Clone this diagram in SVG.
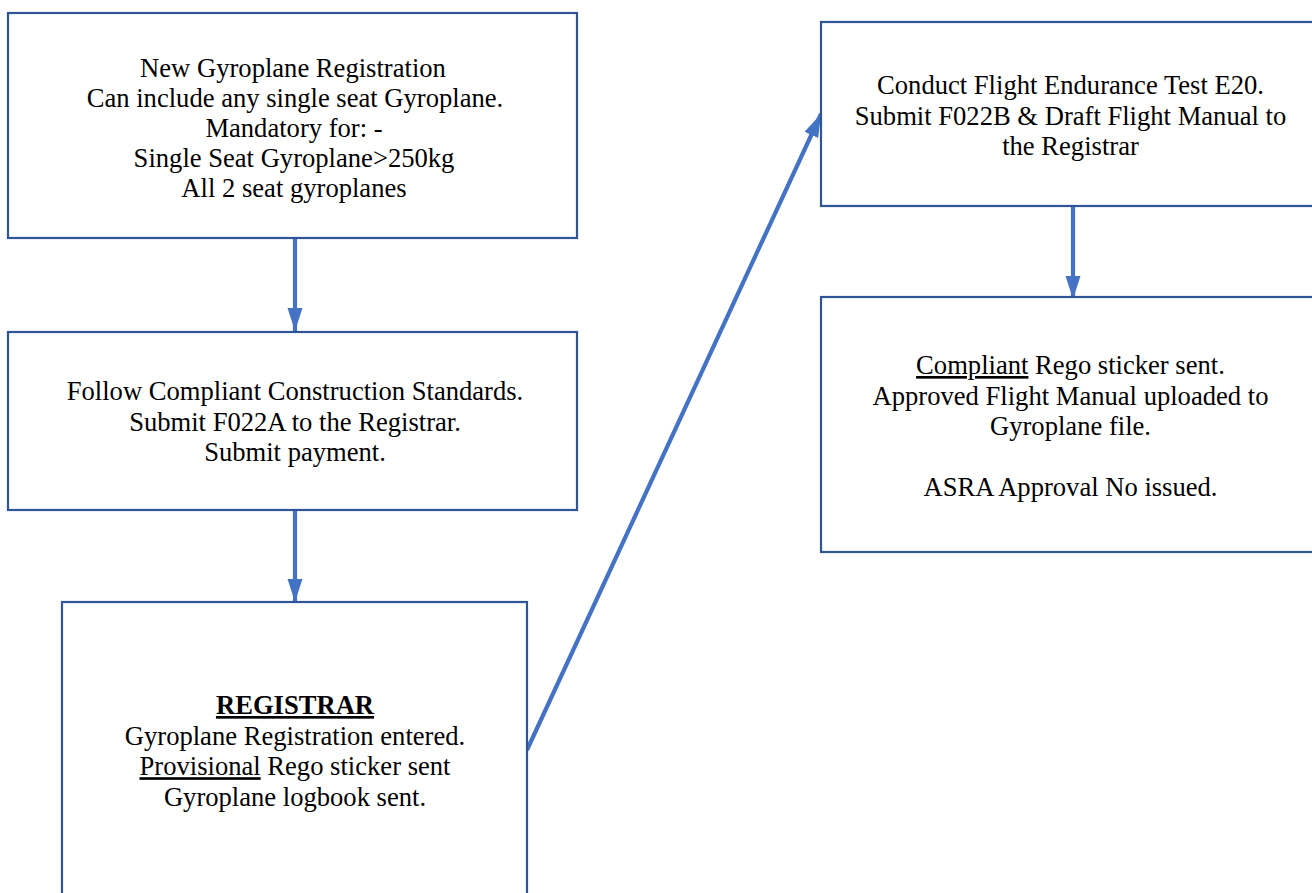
<svg xmlns="http://www.w3.org/2000/svg" width="1312" height="893" viewBox="0 0 1312 893">
<style>
.box{fill:#ffffff;stroke:#2F5597;stroke-width:2.2}
.t{font-family:"Liberation Serif","Times New Roman",serif;font-size:26.6px;fill:#000000;text-anchor:middle}
.u{text-decoration:underline}
.b{font-weight:bold}
.c{stroke:#4472C4;stroke-width:4.2;fill:none}
</style>
<defs>
<marker id="ah" markerUnits="userSpaceOnUse" markerWidth="24" markerHeight="16" refX="23" refY="7.5" orient="auto">
<path d="M0,0 L23,7.5 L0,15 z" fill="#4472C4"/>
</marker>
</defs>
<rect width="1312" height="893" fill="#ffffff"/>
<g id="connectors">
<line class="c" x1="295" y1="239" x2="295" y2="331" marker-end="url(#ah)"/>
<line class="c" x1="295" y1="510" x2="295" y2="602" marker-end="url(#ah)"/>
<line class="c" x1="527" y1="750" x2="821" y2="114" marker-end="url(#ah)"/>
<line class="c" x1="1073" y1="207" x2="1073" y2="299" marker-end="url(#ah)"/>
</g>
<g id="node-new-registration">
<rect class="box" x="8" y="13" width="569" height="225"/>
<text class="t" x="293" y="77">New Gyroplane Registration</text>
<text class="t" x="295" y="107">Can include any single seat Gyroplane.</text>
<text class="t" x="294" y="137">Mandatory for: -</text>
<text class="t" x="294" y="167">Single Seat Gyroplane&gt;250kg</text>
<text class="t" x="294" y="197">All 2 seat gyroplanes</text>
</g>
<g id="node-construction">
<rect class="box" x="8" y="332" width="569" height="178"/>
<text class="t" x="295" y="400">Follow Compliant Construction Standards.</text>
<text class="t" x="295" y="430.6">Submit F022A to the Registrar.</text>
<text class="t" x="295" y="461.2">Submit payment.</text>
</g>
<g id="node-registrar">
<rect class="box" x="62" y="602" width="465" height="300"/>
<text class="t" x="295" y="714"><tspan class="b u">REGISTRAR</tspan></text>
<text class="t" x="295" y="744.6">Gyroplane Registration entered.</text>
<text class="t" x="295" y="775.2"><tspan class="u">Provisional</tspan> Rego sticker sent</text>
<text class="t" x="295" y="805.8">Gyroplane logbook sent.</text>
</g>
<g id="node-flight-test">
<rect class="box" x="821" y="22" width="500" height="184"/>
<text class="t" x="1070.5" y="94">Conduct Flight Endurance Test E20.</text>
<text class="t" x="1070.5" y="124.6">Submit F022B &amp; Draft Flight Manual to</text>
<text class="t" x="1070.5" y="155.2">the Registrar</text>
</g>
<g id="node-compliant">
<rect class="box" x="821" y="297" width="500" height="255"/>
<text class="t" x="1070.5" y="374"><tspan class="u">Compliant</tspan> Rego sticker sent.</text>
<text class="t" x="1070.5" y="404.6">Approved Flight Manual uploaded to</text>
<text class="t" x="1070.5" y="435.2">Gyroplane file.</text>
<text class="t" x="1070.5" y="496.4">ASRA Approval No issued.</text>
</g>
</svg>
